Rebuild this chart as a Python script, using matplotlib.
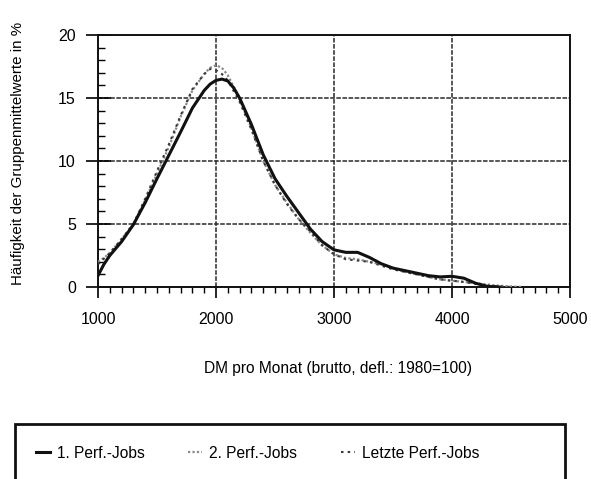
import matplotlib
matplotlib.use("Agg")
import matplotlib.pyplot as plt
from matplotlib.patches import Rectangle
from matplotlib.ticker import MultipleLocator

plt.rcParams['font.family'] = ['Liberation Sans', 'DejaVu Sans']

# DM per month
x1 = [1000, 1050, 1100, 1200, 1300, 1400, 1500, 1600, 1700, 1800, 1900, 1950, 2000, 2050,
      2100, 2150, 2200, 2300, 2400, 2500, 2600, 2700, 2800, 2900, 3000, 3100, 3200,
      3300, 3400, 3500, 3600, 3700, 3800, 3900, 4000, 4100, 4200, 4300, 4400]
y1 = [0.9, 1.8, 2.5, 3.6, 4.95, 6.7, 8.6, 10.45, 12.3, 14.2, 15.6, 16.1, 16.4, 16.5,
      16.35, 15.8, 15.0, 12.9, 10.5, 8.6, 7.2, 5.9, 4.6, 3.6, 2.95, 2.75, 2.75,
      2.35, 1.85, 1.5, 1.3, 1.1, 0.9, 0.8, 0.85, 0.7, 0.3, 0.05, 0.0]

x2 = [1000, 1050, 1100, 1200, 1300, 1400, 1500, 1600, 1700, 1800, 1900, 1950, 2000, 2050,
      2100, 2150, 2200, 2300, 2400, 2500, 2600, 2700, 2800, 2900, 3000, 3100, 3200,
      3300, 3400, 3500, 3600, 3700, 3800, 3900, 4000, 4100, 4200, 4300, 4400, 4500, 4600]
y2 = [2.0, 2.3, 2.7, 3.8, 5.0, 6.9, 9.0, 11.1, 13.5, 15.6, 16.9, 17.4, 17.6, 17.4,
      16.8, 15.9, 14.9, 12.6, 10.0, 8.1, 6.7, 5.4, 4.3, 3.3, 2.6, 2.3, 2.2,
      2.0, 1.8, 1.5, 1.2, 1.0, 0.8, 0.6, 0.5, 0.4, 0.3, 0.2, 0.1, 0.05, 0.0]

x3 = [1000, 1100, 1200, 1300, 1400, 1500, 1600, 1700, 1800, 1900, 1950, 2000, 2050,
      2100, 2200, 2300, 2400, 2500, 2600, 2700, 2800, 2900, 3000, 3100, 3200, 3300,
      3400, 3500, 3600, 3700, 3800, 3900, 4000, 4100, 4200, 4300, 4400, 4500]
y3 = [1.8, 2.7, 3.8, 5.0, 7.0, 9.2, 11.3, 13.6, 15.7, 16.9, 17.3, 17.2, 16.9,
      16.4, 14.7, 12.5, 10.0, 8.1, 6.6, 5.4, 4.4, 3.3, 2.6, 2.2, 2.1, 2.0,
      1.7, 1.4, 1.2, 1.0, 0.8, 0.6, 0.5, 0.4, 0.25, 0.1, 0.05, 0.0]

labels = ["1. Perf.-Jobs", "2. Perf.-Jobs", "Letzte Perf.-Jobs"]
x_ticks = [1000, 2000, 3000, 4000, 5000]
y_ticks = [0, 5, 10, 15, 20]

fig = plt.figure(figsize=(5.91, 4.79), dpi=100)
ax = fig.add_axes([98/591, (479-287)/479, (570-98)/591, (287-35)/479])

ax.grid(True, which='major', color='#2a2a2a', linestyle=(0, (3, 1)), linewidth=1.1, zorder=1)
l2, = ax.plot(x2, y2, color='#8a8a8a', linestyle=(0, (1, 1)), linewidth=1.6, zorder=3)
l3, = ax.plot(x3, y3, color='#3a3a3a', linestyle=(0, (1.2, 2)), linewidth=1.5, zorder=3)
l1, = ax.plot(x1, y1, color='#111111', linestyle='-', linewidth=2.2, zorder=4,
              solid_joinstyle='round')

ax.set_xlim(1000, 5000)
ax.set_ylim(0, 20)
ax.set_xticks(x_ticks)
ax.set_yticks(y_ticks)
ax.xaxis.set_minor_locator(MultipleLocator(100))
ax.yaxis.set_minor_locator(MultipleLocator(1))
ax.tick_params(axis='x', which='major', direction='out', length=8, width=1.2, pad=10, labelsize=11.5)
ax.tick_params(axis='x', which='minor', direction='out', length=4, width=1.0)
ax.tick_params(axis='y', which='major', direction='inout', length=18, width=1.2, pad=7, labelsize=11.5)
ax.tick_params(axis='y', which='minor', direction='in', length=5, width=1.0)
for s in ax.spines.values():
    s.set_linewidth(1.4)
    s.set_color('#111111')

fig.text(18/591, (479-153)/479, "Häufigkeit der Gruppenmittelwerte in %", rotation=90,
         ha='center', va='center', fontsize=10.9)
fig.text(338/591, (479-368)/479, "DM pro Monat (brutto, defl.: 1980=100)",
         ha='center', va='center', fontsize=11.2)

rect = Rectangle((15/591, -0.1), (565-15)/591, 0.1 + (479-424)/479, transform=fig.transFigure,
                 fill=False, edgecolor='#111111', linewidth=2.0, clip_on=False)
fig.patches.append(rect)

fig.legend([l1, l2, l3], labels, loc='center left', bbox_to_anchor=(36/591, (479-453)/479),
           ncol=3, frameon=False, fontsize=11.2, handlelength=0.9, handletextpad=0.45,
           columnspacing=2.8, borderpad=0, borderaxespad=0)

fig.savefig("out.png", dpi=100)
